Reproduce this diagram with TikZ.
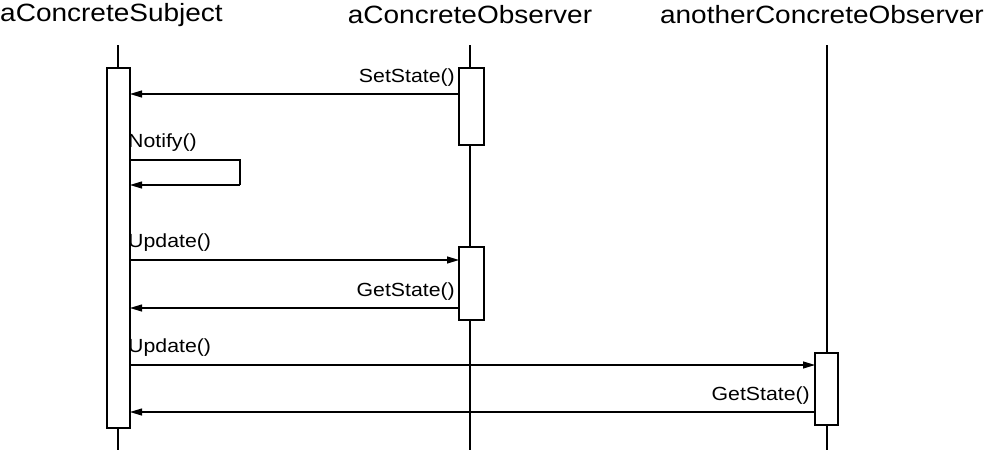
\documentclass[tikz,border=0pt]{standalone}
\usepackage{fontspec}
\setmainfont{Liberation Sans}
\usetikzlibrary{arrows.meta}
\begin{document}
\begin{tikzpicture}[x=1pt,y=-1pt,
  title/.style={font=\fontsize{25}{27}\selectfont,inner sep=0pt,xscale=1.12},
  lbl/.style={font=\fontsize{19}{21}\selectfont,inner sep=0pt,xscale=1.12},
  life/.style={line width=1.1pt},
  act/.style={draw,line width=1.1pt,fill=white},
  msg/.style={line width=1.1pt,-{Triangle[length=12pt,width=7pt]}}]
\useasboundingbox (0,0) rectangle (984,450);
\node[title,anchor=west] (t1) at (0,15) {aConcreteSubject};
\node[title] (t2) at (470,15) {aConcreteObserver};
\node[title,anchor=east] (t3) at (984,15) {anotherConcreteObserver};
\coordinate (l1) at (118,45); \coordinate (l1e) at (118,450);
\coordinate (l2) at (470,45); \coordinate (l2e) at (470,450);
\coordinate (l3) at (827,45); \coordinate (l3e) at (827,450);
\draw[life] (l1)--(l1e); \draw[life] (l2)--(l2e); \draw[life] (l3)--(l3e);
\draw[act] (107,68) rectangle (130,428);
\draw[act] (459,68) rectangle (484,145);
\draw[act] (459,247) rectangle (484,320);
\draw[act] (815,353) rectangle (838,425);
\coordinate (s1) at (459,94); \coordinate (e1) at (130,94);
\draw[msg] (s1)--(e1);
\node[lbl,anchor=east] (m1) at (455,78) {SetState()};
\coordinate (n1) at (130,160); \coordinate (n2) at (240,160); \coordinate (n3) at (240,185); \coordinate (n4) at (130,185);
\draw[life] (n1)--(n2)--(n3);
\draw[msg] (n3)--(n4);
\node[lbl,anchor=west] (m2) at (128,143) {Notify()};
\coordinate (u1) at (130,260); \coordinate (u2) at (459,260);
\draw[msg] (u1)--(u2);
\node[lbl,anchor=west] (m3) at (128,243) {Update()};
\coordinate (g1) at (459,308); \coordinate (g2) at (130,308);
\draw[msg] (g1)--(g2);
\node[lbl,anchor=east] (m4) at (455,292) {GetState()};
\coordinate (u3) at (130,365); \coordinate (u4) at (815,365);
\draw[msg] (u3)--(u4);
\node[lbl,anchor=west] (m5) at (128,348) {Update()};
\coordinate (g3) at (815,412); \coordinate (g4) at (130,412);
\draw[msg] (g3)--(g4);
\node[lbl,anchor=east] (m6) at (810,396) {GetState()};
\end{tikzpicture}
\end{document}
